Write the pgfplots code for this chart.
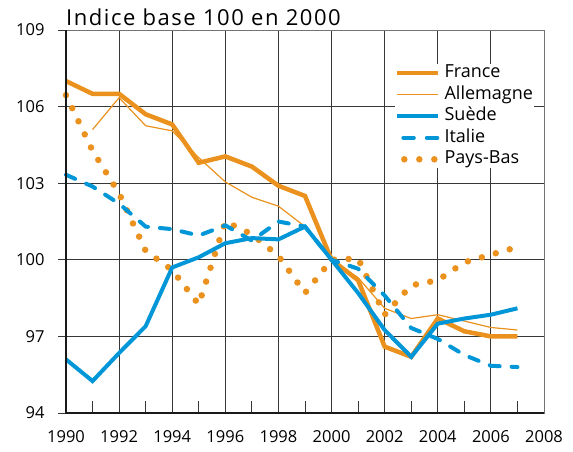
\documentclass[border=0pt]{standalone}
\usepackage{pgfplots}
\pgfplotsset{compat=1.18}
\usepackage{fontspec}
\setmainfont{Open Sans}
\newfontfamily\titlefont[LetterSpace=7]{Open Sans}
\definecolor{orng}{RGB}{234,145,30}
\definecolor{blu}{RGB}{0,150,215}
\definecolor{gridc}{RGB}{55,55,55}
\pgfplotsset{
  dashleg/.style={legend image code/.code={\draw[##1] (6pt,0pt) -- (41pt,0pt);}},
  dotleg/.style={legend image code/.code={\draw[##1] (7pt,0pt) -- (38pt,0pt);}},
}
\begin{document}
\begin{tikzpicture}
\useasboundingbox (-66pt,-38pt) rectangle (507pt,413pt);
\begin{axis}[
  name=ax,
  scale only axis, width=478pt, height=383pt,
  xmin=1990, xmax=2008, ymin=94, ymax=109,
  xtick={1990,1992,...,2008}, ytick={94,97,...,109},
  minor xtick={1991,1993,...,2007},
  grid=major,
  major grid style={gridc, line width=0.9pt},
  minor grid style={draw=none},
  axis line style={black!55, line width=0.8pt},
  xtick pos=bottom, ytick pos=left,
  xtick align=inside, ytick align=outside,
  major tick length=8pt, minor tick length=12pt,
  tick style={gridc, line width=0.9pt},
  x tick label style={/pgf/number format/1000 sep={}},
  ticklabel style={font=\fontsize{16.5}{16.5}\selectfont},
  xticklabel style={yshift=-14pt},
  yticklabel style={xshift=-10pt},
  /pgf/number format/assume math mode=true,
  clip=false,
  legend style={at={(0.688,0.912)}, anchor=north west, draw=none, fill=white,
    inner sep=0pt, font=\fontsize{18}{18}\selectfont, row sep=3.6pt, column sep=3pt,
    nodes={inner sep=1pt, text height=12.5pt, text depth=3.5pt}},
  legend cell align=left,
  legend image code/.code={\draw[#1] (0pt,0pt) -- (41pt,0pt);},
]
% Pays-Bas
\addplot[orng, line width=6.5pt, line cap=round, dash pattern=on 0pt off 14.5pt, forget plot] coordinates {
(1990,106.45) (1991,104.27) (1992,102.6) (1993,100.35) (1994,99.6) (1995,98.25)
(1996,101.5) (1997,101.0) (1998,100.15) (1999,98.7) (2000,100) (2001,100.05)
(2002,97.85) (2003,99.0) (2004,99.2) (2005,99.9) (2006,100.2) (2007,100.5)};
% Allemagne
\addplot[orng, line width=1.2pt, forget plot] coordinates {
(1991,105.1) (1992,106.35) (1993,105.25) (1994,105.05) (1995,104.0) (1996,103.05)
(1997,102.45) (1998,102.1) (1999,101.3) (2000,100) (2001,99.3) (2002,98.1)
(2003,97.7) (2004,97.85) (2005,97.6) (2006,97.35) (2007,97.25)};
% France
\addplot[orng, line width=4.5pt, forget plot] coordinates {
(1990,107.0) (1991,106.5) (1992,106.5) (1993,105.7) (1994,105.3) (1995,103.8)
(1996,104.05) (1997,103.65) (1998,102.9) (1999,102.5) (2000,100) (2001,99.2)
(2002,96.6) (2003,96.2) (2004,97.7) (2005,97.2) (2006,97.0) (2007,97.0)};
% Italie
\addplot[blu, line width=4pt, line cap=round, dash pattern=on 10pt off 12pt, forget plot] coordinates {
(1990,103.33) (1991,102.87) (1992,102.2) (1993,101.3) (1994,101.2) (1995,100.95)
(1996,101.35) (1997,100.75) (1998,101.5) (1999,101.3) (2000,100) (2001,99.65)
(2002,98.6) (2003,97.33) (2004,96.9) (2005,96.27) (2006,95.85) (2007,95.8)};
% Suede
\addplot[blu, line width=4pt, forget plot] coordinates {
(1990,96.1) (1991,95.25) (1992,96.35) (1993,97.4) (1994,99.7) (1995,100.1)
(1996,100.65) (1997,100.85) (1998,100.8) (1999,101.3) (2000,100) (2001,98.7)
(2002,97.25) (2003,96.2) (2004,97.5) (2005,97.7) (2006,97.85) (2007,98.1)};
\draw[black!90, line width=2.6pt] (rel axis cs:0,1) -- (rel axis cs:0,0) -- (rel axis cs:1,0);
\addlegendimage{orng, line width=4.5pt}
\addlegendentry{France}
\addlegendimage{orng, line width=1.2pt}
\addlegendentry{Allemagne}
\addlegendimage{blu, line width=4pt}
\addlegendentry{Suède}
\addlegendimage{blu, line width=4pt, line cap=round, dash pattern=on 10.5pt off 13pt, dashleg}
\addlegendentry{Italie}
\addlegendimage{orng, line width=6.5pt, line cap=round, dash pattern=on 0pt off 15pt, dotleg}
\addlegendentry{Pays-Bas}
\end{axis}
\node[anchor=base west, font=\titlefont\fontsize{22}{22}\selectfont, inner sep=0pt] at ([yshift=5pt]ax.north west) {Indice base 100 en 2000};
\end{tikzpicture}
\end{document}
